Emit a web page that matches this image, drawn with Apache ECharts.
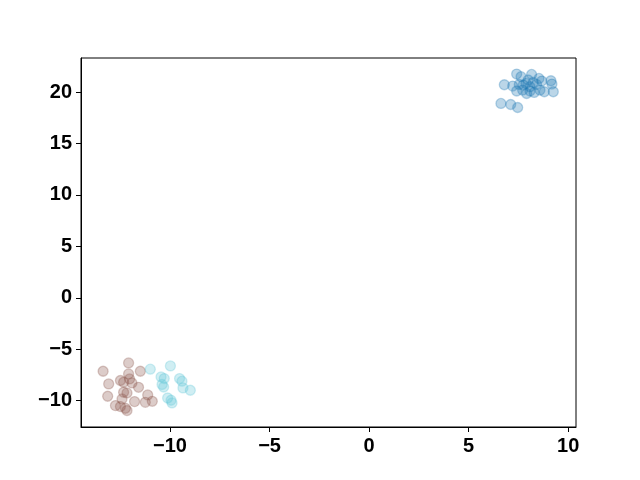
<!DOCTYPE html>
<html>
<head>
<meta charset="utf-8">
<script src="https://cdn.jsdelivr.net/npm/echarts@6/dist/echarts.min.js"></script>
<style>html,body{margin:0;padding:0;background:#fff}#c{width:640px;height:480px}</style>
</head>
<body>
<div id="c"></div>
<script>
const blueX = [6.79,7.41,7.63,8.16,8.53,8.67,9.13,9.18,8.80,9.25,8.29,7.91,7.41,7.21,7.74,7.88,8.08,8.41,7.99,7.54,8.24,6.62,7.11,7.46,8.58,7.71,8.08];
const blueY = [20.71,21.75,21.49,21.71,21.32,21.07,21.10,20.78,20.03,20.03,19.96,19.86,20.10,20.58,20.68,20.84,20.52,20.74,21.17,20.74,20.93,18.89,18.79,18.50,20.19,20.19,20.10];
const brownX = [-12.08,-13.36,-11.49,-13.08,-12.49,-12.08,-12.03,-12.33,-11.91,-11.58,-13.13,-12.33,-12.16,-11.12,-12.41,-11.78,-11.24,-10.89,-12.74,-12.49,-12.24,-12.16];
const brownY = [-6.33,-7.14,-7.14,-8.37,-8.04,-7.40,-7.89,-8.21,-8.28,-8.70,-9.57,-9.18,-9.25,-9.44,-9.83,-10.09,-10.16,-10.06,-10.48,-10.57,-10.74,-10.96];
const cyanX = [-10.99,-9.98,-10.45,-10.29,-10.40,-10.32,-9.52,-9.40,-9.35,-8.98,-10.12,-9.95,-9.90];
const cyanY = [-6.94,-6.62,-7.69,-7.85,-8.43,-8.67,-7.85,-8.11,-8.76,-8.99,-9.74,-9.96,-10.22];
const xTicks = [-10,-5,0,5,10];
const yTicks = [-10,-5,0,5,10,15,20];

function pairs(xs, ys){ return xs.map((x,i)=>[x, ys[i]]); }
function fmt(v){ return String(v).replace('-', '\u2212'); }
const labelStyle = {fontFamily:'Liberation Sans', fontWeight:'bold', fontSize:20, color:'#000'};
function ser(data, color){
  return {type:'scatter', data:data, symbolSize:10,
    itemStyle:{color:color, borderColor:color, borderWidth:1.3, opacity:0.3},
    emphasis:{disabled:true}, animation:false};
}
const chart = echarts.init(document.getElementById('c'));
chart.setOption({
  animation:false,
  grid:{left:81, right:64, top:58, bottom:53, show:true, borderColor:'#000', borderWidth:1, backgroundColor:'transparent'},
  xAxis:{type:'value', min:-14.47, max:10.39,
    axisLine:{show:true, onZero:false, lineStyle:{color:'#000'}},
    axisTick:{show:true, length:5, customValues:xTicks, lineStyle:{color:'#000'}},
    axisLabel:Object.assign({customValues:xTicks, margin:9, formatter:fmt}, labelStyle),
    splitLine:{show:false}},
  yAxis:{type:'value', min:-12.56, max:23.31,
    axisLine:{show:true, onZero:false, lineStyle:{color:'#000'}},
    axisTick:{show:true, length:5, customValues:yTicks, lineStyle:{color:'#000'}},
    axisLabel:Object.assign({customValues:yTicks, margin:9, formatter:fmt}, labelStyle),
    splitLine:{show:false}},
  series:[
    ser(pairs(blueX, blueY), '#1f77b4'),
    ser(pairs(brownX, brownY), '#8c564b'),
    ser(pairs(cyanX, cyanY), '#62c6d8')
  ]
});
</script>
</body>
</html>
